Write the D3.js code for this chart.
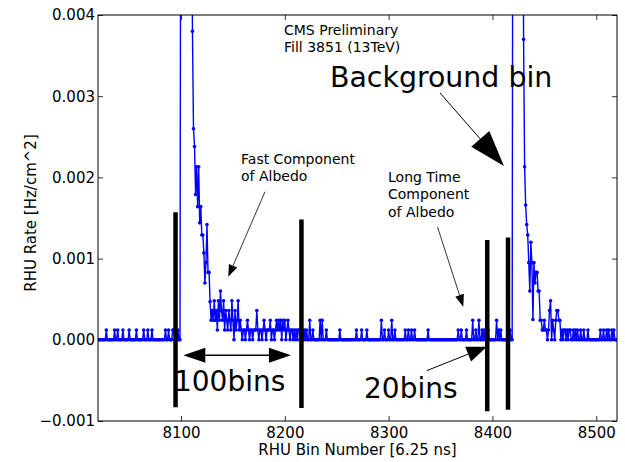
<!DOCTYPE html>
<html><head><meta charset="utf-8">
<script src="https://cdn.jsdelivr.net/npm/d3@7"></script>
<style>
body{margin:0;background:#fff}
svg{display:block}
text{font-family:"DejaVu Sans",sans-serif;fill:#000}
</style>
</head><body>
<svg id="c" width="625" height="462"></svg>
<script>
// ---------- data ----------
const firstBin = 8020;            // bin number of rate[0]
const rate = [                    // RHU rate [Hz/cm^2] per 6.25 ns bin, bins 8020..8520
  0,0,0,0,0,0,0,0,.00012,0,
  0,0,0,0,0,0,.00012,0,0,.00012,
  0,0,0,0,.00012,0,0,0,0,0,
  .00012,0,0,0,0,0,0,.00012,0,0,
  0,0,0,0,.00012,0,0,0,.00012,0,
  0,0,.00012,0,0,0,0,0,0,0,
  0,0,0,0,0,.00012,0,0,.00012,0,
  0,0,.00012,.00012,0,0,0,.00012,0,0,
  .009,.02,.03,.028,.025,.02,.018,.015,.012,.009,
  .0062,.0038,.0026,.00238,.00179,.00213,.00164,.00213,.00144,.00164,
  .00129,.00129,.00107,.0007,.00095,.00142,.00083,.00083,.00047,.00024,
  .00036,.00024,.00048,.00024,.00036,.00012,.00048,.00024,.0006,.00036,
  .00024,.00048,.00012,.00036,.00024,.00012,.00036,.00024,.00012,.00048,
  .00024,0,.00036,.00012,.00024,.00048,.00012,.00024,.00012,0,
  .00012,.00012,0,.00012,.00024,.00012,0,.00012,.00012,0,
  .00012,.00012,.00012,.00036,.00012,0,.00012,.00012,0,.00012,
  .00024,.00012,0,.00012,.00012,.00012,.00024,0,.00012,.00012,
  0,.00012,.00024,.00012,.00024,.00012,.00024,0,.00024,.00012,
  .00024,0,.00012,.00024,.00012,0,.00012,.00012,0,.00012,
  0,.00012,0,.00012,.00012,0,0,.00012,0,.00012,
  0,.00012,0,0,.00024,0,0,.00012,0,0,
  0,0,0,0,.00024,0,.00024,0,0,0,
  .00012,0,0,0,0,0,0,0,0,0,
  0,0,0,.00012,0,0,0,0,0,0,
  0,0,0,0,0,0,0,0,0,.00012,
  0,0,0,0,.00012,0,0,0,0,.00012,
  0,0,0,0,0,0,0,0,0,0,
  0,0,0,.00024,0,0,.00012,0,0,0,
  .00012,0,0,.00024,0,0,.00012,0,0,0,
  0,0,0,0,0,0,.00012,0,0,.00012,
  0,0,.00012,0,0,.00012,0,0,0,0,
  0,0,0,0,0,0,0,0,.00012,0,
  0,0,0,0,0,0,0,0,0,0,
  0,0,0,0,0,0,0,0,0,0,
  0,0,0,0,0,0,0,.00012,0,0,
  .00012,0,0,0,0,.00012,0,0,0,0,
  0,.00024,0,0,.00012,0,0,.00024,0,0,
  .00012,0,.00012,0,0,0,.00012,0,0,0,
  0,0,0,0,.00024,0,.00012,0,.00012,0,
  0,0,0,0,0,0,0,.00012,0,0,
  .01,.03,.035,.03,.025,.02,.017,.014,.01,.007,
  .0037,.00213,.00166,.00142,.00129,.00095,.0006,.0012,.00095,.00025,
  .00095,.0007,.00083,.00083,.0006,.0006,.00024,.00024,.00012,.00012,
  .00024,.00012,.00012,0,.00012,.00036,.00048,0,.00024,.00012,
  0,.00024,.00036,.00036,.00024,.00024,0,.00012,0,.00012,
  .00012,0,.00012,0,.00012,.00012,0,0,.00012,0,
  .00012,0,.00012,0,0,.00012,0,0,.00012,0,
  0,0,.00012,0,0,0,0,0,0,0,
  0,0,0,0,.00012,0,0,.00012,0,0,
  .00012,0,.00012,0,0,.00012,0,.00012,0,0,
  0
];
const xDomain = [8020, 8520];
const yDomain = [-0.001, 0.004];
const xTicks = [8100, 8200, 8300, 8400, 8500];
const yTicks = [-0.001, 0, 0.001, 0.002, 0.003, 0.004];

// black window-marker lines (bin, low, high)
const cutBins = [8094.7, 8216, 8395, 8415];
const cutLow  = [-0.00083, -0.00084, -0.00088, -0.00086];
const cutHigh = [0.00157, 0.00148, 0.00123, 0.00126];

// texts
const infoLines = ["CMS Preliminary", "Fill 3851 (13TeV)"];
const fastLines = ["Fast Component", "of Albedo"];
const longLines = ["Long Time", "Component", "of Albedo"];
const bigLabels = ["Background bin", "100bins", "20bins"];
const xLabel = "RHU Bin Number [6.25 ns]";
const yLabel = "RHU Rate [Hz/cm^2]";

// ---------- layout ----------
const W = 625, H = 462;
const m = {l: 98, t: 15, r: 8, b: 41};
const svg = d3.select("#c");
const x = d3.scaleLinear().domain(xDomain).range([m.l, W - m.r]);
const y = d3.scaleLinear().domain(yDomain).range([H - m.b, m.t]);

svg.append("defs").append("clipPath").attr("id", "clip")
  .append("rect").attr("x", m.l).attr("y", m.t)
  .attr("width", W - m.l - m.r).attr("height", H - m.t - m.b);

const fmt = v => d3.format(".3f")(v).replace("-", "\u2212");
const tickLen = 5;

// axes
const gx = svg.append("g").attr("transform", `translate(0,${H - m.b})`)
  .call(d3.axisBottom(x).tickValues(xTicks).tickFormat(d3.format("d"))
    .tickSizeInner(-tickLen).tickSizeOuter(0).tickPadding(6));
const gxt = svg.append("g").attr("transform", `translate(0,${m.t})`)
  .call(d3.axisTop(x).tickValues(xTicks).tickFormat("")
    .tickSizeInner(-tickLen).tickSizeOuter(0));
const gy = svg.append("g").attr("transform", `translate(${m.l},0)`)
  .call(d3.axisLeft(y).tickValues(yTicks).tickFormat(fmt)
    .tickSizeInner(-tickLen).tickSizeOuter(0).tickPadding(3));
const gyr = svg.append("g").attr("transform", `translate(${W - m.r},0)`)
  .call(d3.axisRight(y).tickValues(yTicks).tickFormat("")
    .tickSizeInner(-tickLen).tickSizeOuter(0));
[gx, gxt, gy, gyr].forEach(g => {
  g.select(".domain").remove();
  g.selectAll("line").attr("stroke", "#000").attr("stroke-width", 0.8);
  g.selectAll("text").attr("font-family", "DejaVu Sans").attr("font-size", 15).attr("fill", "#000");
});

// data line
const series = rate.map((v, i) => ({bin: firstBin + i, v}));
const plot = svg.append("g").attr("clip-path", "url(#clip)");
plot.append("path").datum(series)
  .attr("fill", "none").attr("stroke", "#0000ff").attr("stroke-width", 1.4)
  .attr("stroke-linejoin", "round")
  .attr("d", d3.line().x(d => x(d.bin)).y(d => y(d.v)));
plot.selectAll("circle").data(series).join("circle")
  .attr("cx", d => x(d.bin)).attr("cy", d => y(d.v)).attr("r", 1.8)
  .attr("fill", "#0000ff");

// frame
svg.append("rect").attr("x", m.l).attr("y", m.t)
  .attr("width", W - m.l - m.r).attr("height", H - m.t - m.b)
  .attr("fill", "none").attr("stroke", "#000").attr("stroke-width", 1);

// black marker lines
svg.append("g").selectAll("line").data(cutBins).join("line")
  .attr("x1", d => x(d)).attr("x2", d => x(d))
  .attr("y1", (d, i) => y(cutLow[i])).attr("y2", (d, i) => y(cutHigh[i]))
  .attr("stroke", "#000").attr("stroke-width", 4.5);

// arrows
function arrow(p0, p1, headLen, headHalf, sw, both) {
  const x0 = x(p0[0]), y0 = y(p0[1]), x1 = x(p1[0]), y1 = y(p1[1]);
  const dx = x1 - x0, dy = y1 - y0, L = Math.hypot(dx, dy);
  const ux = dx / L, uy = dy / L, nx = -uy, ny = ux;
  const g = svg.append("g");
  const s = both ? headLen : 0;
  g.append("line")
    .attr("x1", x0 + ux * s).attr("y1", y0 + uy * s)
    .attr("x2", x1 - ux * headLen).attr("y2", y1 - uy * headLen)
    .attr("stroke", "#000").attr("stroke-width", sw);
  const head = (tx, ty, dirx, diry) => {
    const bx = tx - dirx * headLen, by = ty - diry * headLen;
    g.append("polygon").attr("points", [
      [tx, ty], [bx + nx * headHalf, by + ny * headHalf], [bx - nx * headHalf, by - ny * headHalf]
    ].map(p => p.join(",")).join(" ")).attr("fill", "#000");
  };
  head(x1, y1, ux, uy);
  if (both) head(x0, y0, -ux, -uy);
}
arrow([8102.2, -0.00019], [8205.9, -0.00019], 22, 7.5, 1.5, true);   // 100 bins
arrow([8336.7, -0.00038], [8394.5, -0.000085], 20, 8, 1, false);     // 20 bins
arrow([8349.5, 0.00304], [8411.1, 0.00214], 36, 12, 1, false);       // background bin
arrow([8180.9, 0.001824], [8145.5, 0.000777], 12, 4.5, 0.8, false);  // fast component
arrow([8347.1, 0.001389], [8371.9, 0.000408], 12, 4.5, 0.8, false);  // long component

// text helpers
function block(lines, bx, by, size, lh) {
  const t = svg.append("text").attr("font-size", size);
  lines.forEach((s, i) => t.append("tspan").attr("x", x(bx)).attr("y", y(by) + i * lh).text(s));
}
block(infoLines, 8199.2, 0.003754, 14, 17.2);
block(fastLines, 8157.8, 0.002165, 14, 17);
block(longLines, 8299.4, 0.001943, 14, 17.3);
block([bigLabels[0]], 8243.5, 0.003113, 28.4, 0);
block([bigLabels[1]], 8093.2, -0.00063, 28, 0);
block([bigLabels[2]], 8276.3, -0.00072, 28, 0);

// axis labels
svg.append("text").attr("x", (m.l + W - m.r) / 2).attr("y", 454.5)
  .attr("text-anchor", "middle").attr("font-size", 15).text(xLabel);
svg.append("text").attr("transform", `translate(35.5,213) rotate(-90)`)
  .attr("text-anchor", "middle").attr("font-size", 15).text(yLabel);
</script>
</body></html>
